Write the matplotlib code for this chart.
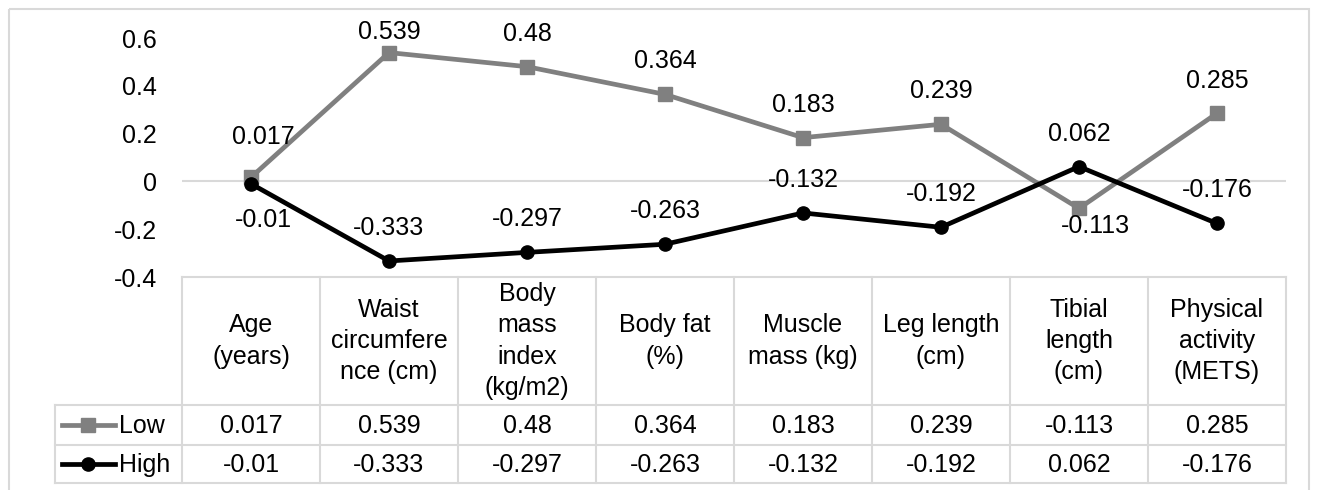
import matplotlib.pyplot as plt
from matplotlib.transforms import blended_transform_factory
from matplotlib.patches import Rectangle

plt.rcParams['font.family'] = ['Liberation Sans', 'DejaVu Sans']

categories = ['Age\n(years)', 'Waist\ncircumfere\nnce (cm)', 'Body\nmass\nindex\n(kg/m2)',
              'Body fat\n(%)', 'Muscle\nmass (kg)', 'Leg length\n(cm)', 'Tibial\nlength\n(cm)',
              'Physical\nactivity\n(METS)']
low = [0.017, 0.539, 0.48, 0.364, 0.183, 0.239, -0.113, 0.285]
high = [-0.01, -0.333, -0.297, -0.263, -0.132, -0.192, 0.062, -0.176]
series_names = ['Low', 'High']
yticks = [-0.4, -0.2, 0, 0.2, 0.4, 0.6]

# label offsets in pixels (dx, dy), as placed in the original
low_offsets = [(12, 40), (0, 21), (0, 33), (0, 33), (0, 33), (0, 33), (16, -18), (0, 32)]
high_offsets = [(12, -36), (0, 33), (0, 33), (0, 33), (0, 33), (0, 33), (0, 33), (0, 33)]

W, H = 1320, 490
FS = 18
GRID = '#d9d9d9'
GRAY = '#808080'

fig = plt.figure(figsize=(W / 100, H / 100), dpi=100)

# full-figure overlay in pixel units for the table and border
over = fig.add_axes([0, 0, 1, 1])
over.set_xlim(0, W)
over.set_ylim(H, 0)
over.axis('off')
over.add_patch(Rectangle((9, 9), 1300, 500, fill=False, edgecolor=GRID, lw=1.5))

# plot area
left, right, top, bottom = 182, 1286, 38, 277
ax = fig.add_axes([left / W, 1 - bottom / H, (right - left) / W, (bottom - top) / H])
n = len(categories)
x = [i + 0.5 for i in range(n)]
ax.set_xlim(0, n)
ax.set_ylim(-0.4, 0.6)
for s in ax.spines.values():
    s.set_visible(False)
ax.axhline(0, color=GRID, lw=1.5, zorder=0)
ax.set_xticks([])
ax.set_yticks(yticks)
ax.set_yticklabels(['-0.4', '-0.2', '0', '0.2', '0.4', '0.6'], fontsize=FS)
ax.tick_params(axis='y', length=0, pad=18)
ax.patch.set_alpha(0)

ax.plot(x, low, color=GRAY, lw=3.4, marker='s', ms=9.5, zorder=3)
ax.plot(x, high, color='black', lw=3.4, marker='o', ms=9.5, zorder=4)

for xi, v, (dx, dy) in zip(x, low, low_offsets):
    ax.annotate(str(v), (xi, v), xytext=(dx, dy), textcoords='offset pixels',
                ha='center', va='center', fontsize=FS, annotation_clip=False)
for xi, v, (dx, dy) in zip(x, high, high_offsets):
    ax.annotate(str(v), (xi, v), xytext=(dx, dy), textcoords='offset pixels',
                ha='center', va='center', fontsize=FS, annotation_clip=False)

# data table
tr = blended_transform_factory(ax.transData, over.transData)
y_head_top, y_head_bot, y_r1, y_r2 = 277, 405, 445, 483
leg_left = 55
lk = dict(color=GRID, lw=1.5, clip_on=False)
over.plot([left, right], [y_head_top] * 2, **lk)
for yy in [y_head_bot, y_r1, y_r2]:
    over.plot([leg_left, right], [yy] * 2, **lk)
for i in range(n + 1):
    over.plot([i, i], [y_head_top, y_r2], transform=tr, **lk)
over.plot([leg_left, leg_left], [y_head_bot, y_r2], **lk)

for xi, c in zip(x, categories):
    over.text(xi, (y_head_top + y_head_bot) / 2, c, transform=tr, ha='center', va='center',
              fontsize=FS, linespacing=1.38)
rows = [(low, (y_head_bot + y_r1) / 2), (high, (y_r1 + y_r2) / 2)]
for vals, yc in rows:
    for xi, v in zip(x, vals):
        over.text(xi, yc + 1, str(v), transform=tr, ha='center', va='center', fontsize=FS)

# legend keys in the table
key_styles = [dict(color=GRAY, marker='s'), dict(color='black', marker='o')]
for (vals, yc), name, st in zip(rows, series_names, key_styles):
    over.plot([62, 115], [yc, yc], lw=3.4, color=st['color'], clip_on=False)
    over.plot([88], [yc], marker=st['marker'], ms=9.5, color=st['color'], clip_on=False)
    over.text(119, yc + 1, name, ha='left', va='center', fontsize=FS)

fig.savefig('out.png', dpi=100)
